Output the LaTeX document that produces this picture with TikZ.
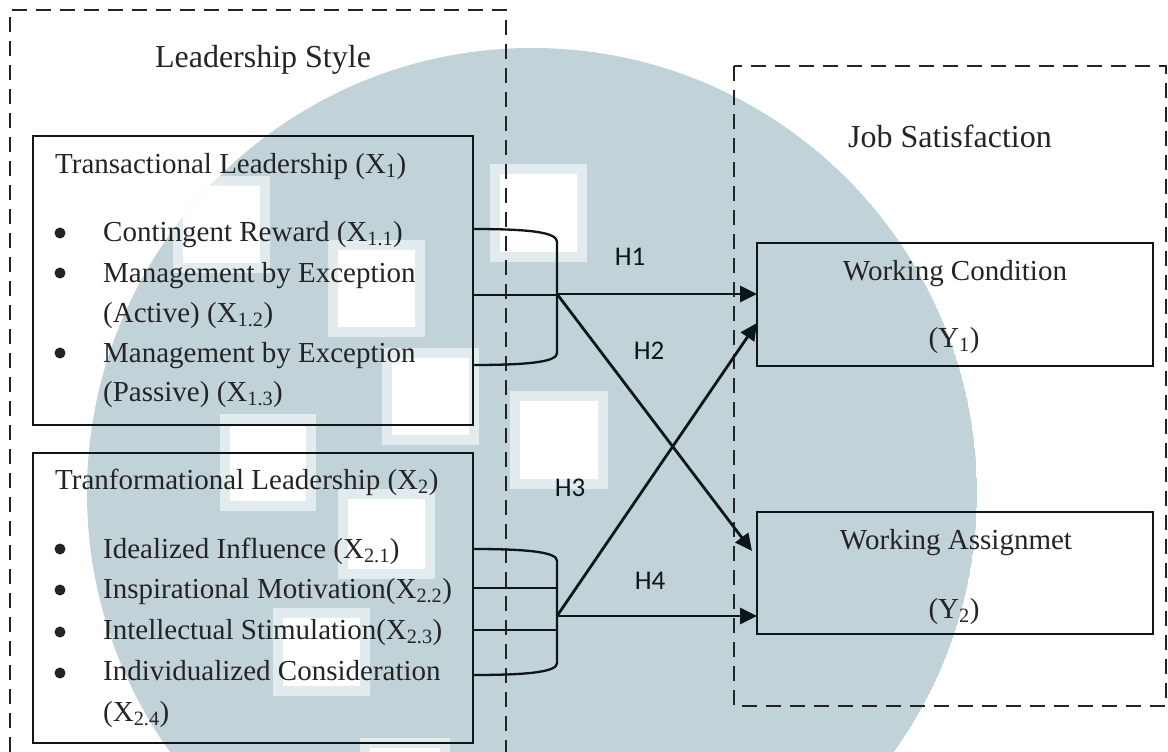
\documentclass[tikz,border=0pt]{standalone}
\usepackage{fontspec}
\setmainfont{Liberation Serif}
\newfontfamily\hfont{Carlito}
\usetikzlibrary{arrows.meta}
\definecolor{wmblue}{RGB}{193,210,217}
\definecolor{wmhalo}{RGB}{226,235,238}
\definecolor{ink}{RGB}{36,36,36}
\definecolor{edge}{RGB}{14,22,26}

\begin{document}
\begin{tikzpicture}[x=1pt,y=-1pt,
  grouptitle/.style={font=\fontsize{32}{38}\selectfont, text=ink, inner sep=0pt, anchor=base},
  boxtext/.style={font=\fontsize{29}{35}\selectfont, text=ink, inner sep=0pt, anchor=base west},
  centertext/.style={font=\fontsize{29}{35}\selectfont, text=ink, inner sep=0pt, anchor=base},
  groupframe/.style={draw=ink, line width=2pt, dash pattern=on 15pt off 9pt},
  factorbox/.style={draw=edge, line width=2.5pt, inner sep=0pt, outer sep=0pt, anchor=north west},
  bulletdot/.style={circle, fill=ink, inner sep=0pt, minimum size=11pt},
  bracketline/.style={draw=edge, line width=2.3pt},
  hyparrow/.style={draw=edge, line width=2.8pt, -{Triangle[length=17pt,width=16pt]}},
  hlabel/.style={font=\hfont\fontsize{27}{32}\selectfont, text=edge, inner sep=0pt}
]
\useasboundingbox (0,0) rectangle (1168,752);
\fill[white] (0,0) rectangle (1168,752);

% background seal
\begin{scope}
  \clip (0,0) rectangle (1168,752);
  \clip (532,493) circle[radius=445];
  \fill[wmblue] (532,493) circle[radius=445];
  \foreach \sx/\sy/\sw/\sh in {490/164/97/98, 328/240/97/97, 382/348/97/97,
      220/414/96/97, 338/489/97/90, 273/608/97/88, 360/738/90/30,
      510/391/98/98, 173/176/97/97}{
    \fill[wmhalo] (\sx,\sy) rectangle ++(\sw,\sh);
    \fill[white] (\sx+10,\sy+10) rectangle ++(\sw-20,\sh-20);
  }
\end{scope}

% group frames
\draw[groupframe] (10,752) -- (10,10) -- (506,10) -- (506,752);
\draw[groupframe] (734,66) rectangle (1166,706);
\node[grouptitle] (lstitle) at (263,68) {Leadership Style};
\node[grouptitle] (jstitle) at (950,147) {Job Satisfaction};

% factor boxes
\node[factorbox, minimum width=440pt, minimum height=289pt] (tl) at (33,136) {};
\node[factorbox, minimum width=440pt, minimum height=290pt] (tf) at (33,453) {};
\node[factorbox, minimum width=396pt, minimum height=123pt] (wc) at (757,243) {};
\node[factorbox, minimum width=396pt, minimum height=122pt] (wa) at (757,512) {};

% transactional leadership
\node[boxtext] (tltitle) at (55,173) {Transactional Leadership (X\textsubscript{1})};
\node[bulletdot] (tb1) at (60,233) {};
\node[bulletdot] (tb2) at (60,273) {};
\node[bulletdot] (tb3) at (60,353) {};
\node[boxtext] (t1) at (103,241) {Contingent Reward (X\textsubscript{1.1})};
\node[boxtext] (t2) at (103,282) {Management by Exception};
\node[boxtext] (t2b) at (103,322) {(Active) (X\textsubscript{1.2})};
\node[boxtext] (t3) at (103,362) {Management by Exception};
\node[boxtext] (t3b) at (103,401) {(Passive) (X\textsubscript{1.3})};

% transformational leadership
\node[boxtext] (tftitle) at (55,489) {Tranformational Leadership (X\textsubscript{2})};
\node[bulletdot] (fb1) at (60,549) {};
\node[bulletdot] (fb2) at (60,590) {};
\node[bulletdot] (fb3) at (60,632) {};
\node[bulletdot] (fb4) at (60,673) {};
\node[boxtext] (f1) at (103,558) {Idealized Influence (X\textsubscript{2.1})};
\node[boxtext] (f2) at (103,598) {Inspirational Motivation(X\textsubscript{2.2})};
\node[boxtext] (f3) at (103,639) {Intellectual Stimulation(X\textsubscript{2.3})};
\node[boxtext] (f4) at (103,680) {Individualized Consideration};
\node[boxtext] (f4b) at (103,721) {(X\textsubscript{2.4})};

% outcome boxes
\node[centertext] (wctext) at (955,280) {Working Condition};
\node[centertext] (wcy) at (954,347) {(Y\textsubscript{1})};
\node[centertext] (watext) at (956,549) {Working Assignmet};
\node[centertext] (way) at (954,618) {(Y\textsubscript{2})};

% brackets gathering the dimensions
\coordinate (j1) at (557,294);
\coordinate (j2) at (557,616);
\draw[bracketline] (473,229) .. controls (535,229) and (557,233) .. (557,242)
  -- (557,353) .. controls (557,361) and (535,365) .. (473,365);
\draw[bracketline] (473,295) -- (557,295);
\draw[bracketline] (473,549) .. controls (535,549) and (557,553) .. (557,561)
  -- (557,663) .. controls (557,671) and (535,675) .. (473,675);
\draw[bracketline] (473,588) -- (557,588);
\draw[bracketline] (473,630) -- (557,630);

% hypotheses
\coordinate (h2end) at (752,551);
\coordinate (h3end) at (757,323);
\draw[hyparrow] (j1) -- (wc.west |- j1);
\draw[hyparrow] (j1) -- (h2end);
\draw[hyparrow] (j2) -- (h3end);
\draw[hyparrow] (j2) -- (wa.west |- j2);

\node[hlabel] (h1) at (630,257) {H1};
\node[hlabel] (h2) at (649,351) {H2};
\node[hlabel] (h3) at (570,488) {H3};
\node[hlabel] (h4) at (650,581) {H4};
\end{tikzpicture}
\end{document}
